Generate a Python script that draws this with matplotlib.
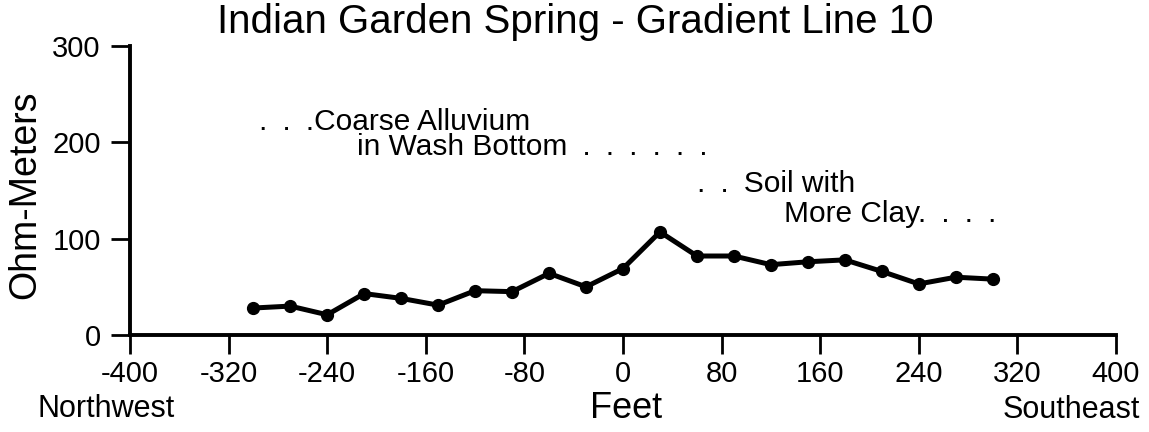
import numpy as np
import matplotlib
matplotlib.use('Agg')
import matplotlib.pyplot as plt

# resistivity readings along gradient line 10
feet = [-300, -270, -240, -210, -180, -150, -120, -90, -60, -30, 0,
        30, 60, 90, 120, 150, 180, 210, 240, 270, 300]
ohm_m = [28, 30, 21, 43, 38, 31, 46, 45, 64, 50, 69,
         107, 82, 82, 73, 76, 78, 66, 53, 60, 58]

xticks = [-400, -320, -240, -160, -80, 0, 80, 160, 240, 320, 400]
yticks = [0, 100, 200, 300]

plt.rcParams['font.family'] = ['Liberation Sans', 'DejaVu Sans']

W, H = 1149, 432
fig = plt.figure(figsize=(W / 100, H / 100), dpi=100)
ax = fig.add_axes([130 / W, 97 / H, 986 / W, 289 / H])

ax.plot(feet, ohm_m, color='black', lw=3.6, marker='o', ms=8.5,
        solid_joinstyle='round', clip_on=False)

ax.set_xlim(-400, 400)
ax.set_ylim(0, 300)
ax.set_xticks(xticks)
ax.set_yticks(yticks)
ax.set_xticklabels([str(t) for t in xticks])
ax.set_yticklabels([str(t) for t in yticks])

for s in ['top', 'right']:
    ax.spines[s].set_visible(False)
for s in ['left', 'bottom']:
    ax.spines[s].set_linewidth(2.8)
ax.tick_params(axis='both', direction='out', length=14, width=2.0,
               labelsize=21, colors='black')
ax.tick_params(axis='y', pad=7)
ax.tick_params(axis='x', pad=4)

# layer notes, dotted leaders use en spaces
sp = '\u2002'
note = dict(fontsize=21.5, ha='left', va='baseline')
ax.text(-295, 213, '.' + sp + '.' + sp + '.Coarse Alluvium', **note)
ax.text(-216, 187, 'in Wash Bottom' + (sp + '.') * 6, **note)
ax.text(60, 148.5, ('.' + sp) * 2 + 'Soil with', **note)
ax.text(131, 117, 'More Clay.' + (sp + '.') * 3, **note)

fig.text(575 / W, 1 - 22 / H, 'Indian Garden Spring - Gradient Line 10',
         fontsize=29, ha='center', va='center')
fig.text(25 / W, 1 - 195 / H, 'Ohm-Meters', fontsize=27, rotation=90,
         ha='center', va='center')
fig.text(626 / W, 1 - 408 / H, 'Feet', fontsize=26, ha='center', va='center')
fig.text(38 / W, 1 - 409 / H, 'Northwest', fontsize=22, ha='left', va='center')
fig.text(1140 / W, 1 - 410 / H, 'Southeast', fontsize=22, ha='right', va='center')

fig.savefig('out.png', dpi=100)
